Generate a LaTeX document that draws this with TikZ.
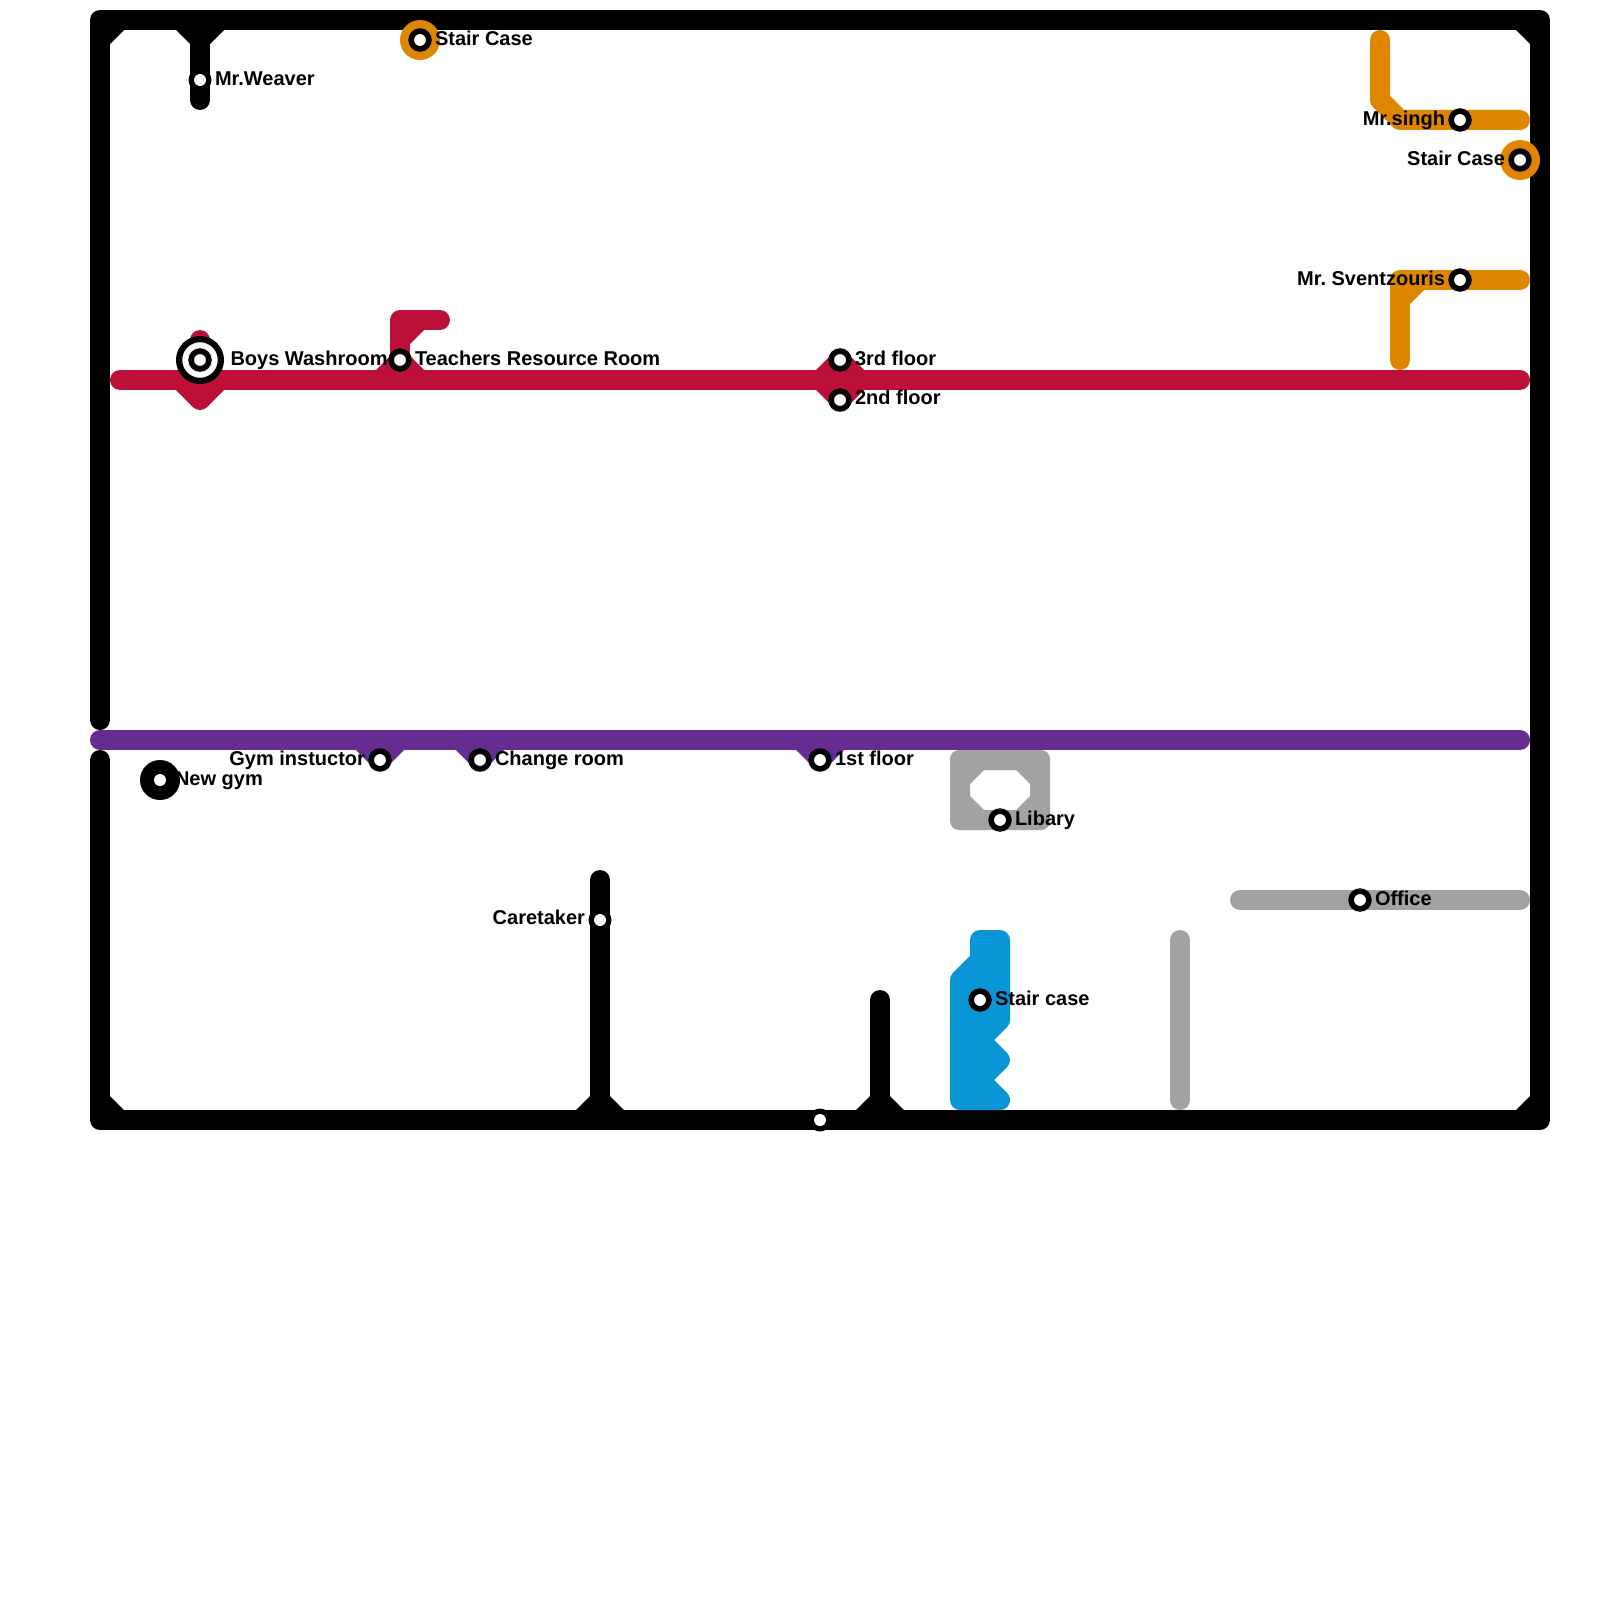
\documentclass[tikz,border=0pt]{standalone}
\usepackage{fontspec}
\setmainfont{Liberation Sans}
\frenchspacing
\definecolor{mred}{HTML}{BD1038}
\definecolor{morange}{HTML}{DF8600}
\definecolor{mpurple}{HTML}{662C90}
\definecolor{mblue}{HTML}{0896D7}
\definecolor{mgray}{HTML}{A2A2A2}
\tikzset{
  metro/.style={line width=20pt,line cap=round,line join=round},
  stn/.style={circle,fill=white,draw=black,line width=5.6pt,minimum size=17.8pt,inner sep=0pt,outer sep=0pt},
  stnplain/.style={circle,fill=white,minimum size=12pt,inner sep=0pt,outer sep=0pt},
  lbl/.style={font=\fontsize{20}{24}\selectfont\bfseries,inner sep=0pt,outer sep=0pt,text=black},
  lblr/.style={lbl,anchor=base west},
  lbll/.style={lbl,anchor=base east},
}
\begin{document}
\begin{tikzpicture}[x=1pt,y=-1pt]
\useasboundingbox (0,0) rectangle (1600,1600);
% station positions
\coordinate (mrweaver) at (200,80);
\coordinate (stairA) at (420,40);
\coordinate (boys) at (200,360);
\coordinate (teachers) at (400,360);
\coordinate (third) at (840,360);
\coordinate (second) at (840,400);
\coordinate (singh) at (1460,120);
\coordinate (stairB) at (1520,160);
\coordinate (svent) at (1460,280);
\coordinate (gym) at (380,760);
\coordinate (change) at (480,760);
\coordinate (first) at (820,760);
\coordinate (newgym) at (160,780);
\coordinate (libary) at (1000,820);
\coordinate (office) at (1360,900);
\coordinate (caretaker) at (600,920);
\coordinate (stairC) at (980,1000);
\coordinate (bottomstn) at (820,1120);
% black lines
\draw[metro,black] (100,720)--(100,20)--(1540,20)--(1540,1120)--(100,1120)--(100,760);
\draw[metro,black] (200,20)--(mrweaver)--(200,100);
\draw[metro,black] (600,880)--(caretaker)--(600,1120);
\draw[metro,black] (880,1000)--(880,1120);
\fill[black] (110,30)--(124,30)--(110,44)--cycle;
\fill[black] (1530,30)--(1516,30)--(1530,44)--cycle;
\fill[black] (110,1110)--(124,1110)--(110,1096)--cycle;
\fill[black] (1530,1110)--(1516,1110)--(1530,1096)--cycle;
\fill[black] (176,30)--(190,44)--(210,44)--(224,30)--cycle;
\fill[black] (576,1110)--(590,1096)--(610,1096)--(624,1110)--cycle;
\fill[black] (856,1110)--(870,1096)--(890,1096)--(904,1110)--cycle;
% gray
\fill[mgray,rounded corners=9pt,even odd rule] (950,750)--(1050,750)--(1050,830)--(950,830)--cycle
  [sharp corners] (984,770)--(1016,770)--(1030,784)--(1030,796)--(1016,810)--(984,810)--(970,796)--(970,784)--cycle;
\draw[metro,mgray] (1240,900)--(office)--(1520,900);
\draw[metro,mgray] (1180,940)--(1180,1100);
% blue
\filldraw[metro,mblue] (1000,940)--(1000,1020)--(980,1040)--(1000,1060)--(980,1080)--(1000,1100)--(960,1100)--(960,980)--(980,960)--(980,940)--cycle;
% orange
\draw[metro,morange] (1380,40)--(1380,100)--(1400,120)--(singh)--(1520,120);
\draw[metro,morange] (1400,360)--(1400,280)--(svent)--(1520,280);
\fill[morange] (1410,290)--(1424,290)--(1410,304)--cycle;
% red
\draw[metro,mred] (120,380)--(1520,380);
\draw[metro,mred] (boys)--(200,340);
\draw[metro,mred] (boys)--(200,400);
\fill[mred] (176,390)--(224,390)--(207.07,407.07)--(192.93,407.07)--cycle;
\draw[metro,mred] (400,380)--(teachers)--(400,320)--(440,320);
\fill[mred] (410,330)--(424,330)--(410,344)--cycle;
\fill[mred] (376,370)--(390,356)--(410,356)--(424,370)--cycle;
\draw[metro,mred] (third)--(second);
\fill[mred] (816,370)--(830,356)--(850,356)--(864,370)--cycle;
\fill[mred] (816,390)--(830,404)--(850,404)--(864,390)--cycle;
% purple
\draw[metro,mpurple] (100,740)--(1520,740);
\draw[metro,mpurple] (380,740)--(gym);
\draw[metro,mpurple] (480,740)--(change);
\draw[metro,mpurple] (820,740)--(first);
\fill[mpurple] (356,750)--(370,764)--(390,764)--(404,750)--cycle;
\fill[mpurple] (456,750)--(470,764)--(490,764)--(504,750)--cycle;
\fill[mpurple] (796,750)--(810,764)--(830,764)--(844,750)--cycle;
% stations
\node[circle,fill=black,minimum size=23pt,inner sep=0pt] (n-mrweaver-r) at (mrweaver) {};
\node[stnplain] (n-mrweaver) at (mrweaver) {};
\node[circle,fill=morange,minimum size=40pt,inner sep=0pt] (n-stairA-o) at (stairA) {};
\node[stn] (n-stairA) at (stairA) {};
\node[circle,fill=white,draw=black,line width=6.2pt,minimum size=41.8pt,inner sep=0pt] (n-boys-o) at (boys) {};
\node[stn] (n-boys) at (boys) {};
\node[stn] (n-teachers) at (teachers) {};
\node[stn] (n-third) at (third) {};
\node[stn] (n-second) at (second) {};
\node[stn] (n-singh) at (singh) {};
\node[circle,fill=morange,minimum size=40pt,inner sep=0pt] (n-stairB-o) at (stairB) {};
\node[stn] (n-stairB) at (stairB) {};
\node[stn] (n-svent) at (svent) {};
\node[stn] (n-gym) at (gym) {};
\node[stn] (n-change) at (change) {};
\node[stn] (n-first) at (first) {};
\node[circle,fill=black,minimum size=40pt,inner sep=0pt] (n-newgym-o) at (newgym) {};
\node[stnplain] (n-newgym) at (newgym) {};
\node[stn] (n-libary) at (libary) {};
\node[stn] (n-office) at (office) {};
\node[circle,fill=black,minimum size=23pt,inner sep=0pt] (n-caretaker-r) at (caretaker) {};
\node[stnplain] (n-caretaker) at (caretaker) {};
\node[stn] (n-stairC) at (stairC) {};
\node[circle,fill=black,minimum size=23pt,inner sep=0pt] (n-bottom-r) at (bottomstn) {};
\node[stnplain] (n-bottom) at (bottomstn) {};
% labels
\node[lblr] (t-mrweaver) at (215,86) {Mr.Weaver};
\node[lblr] (t-stairA) at (435,46) {Stair Case};
\node[lblr] (t-boys) at (230.5,365) {Boys Washroom};
\node[lblr] (t-teachers) at (415,365) {Teachers Resource Room};
\node[lblr] (t-third) at (855,365) {3rd floor};
\node[lblr] (t-second) at (855,404.5) {2nd floor};
\node[lbll] (t-singh) at (1445,125) {Mr.singh};
\node[lbll] (t-stairB) at (1505,165) {Stair Case};
\node[lbll] (t-svent) at (1445,285) {Mr. Sventzouris};
\node[lbll] (t-gym) at (365,765) {Gym instuctor};
\node[lblr] (t-change) at (495,765) {Change room};
\node[lblr] (t-first) at (835,765) {1st floor};
\node[lblr] (t-newgym) at (175,785) {New gym};
\node[lblr] (t-libary) at (1015,825) {Libary};
\node[lblr] (t-office) at (1375,905) {Office};
\node[lbll] (t-caretaker) at (585,924.5) {Caretaker};
\node[lblr] (t-stairC) at (995,1005) {Stair case};
\end{tikzpicture}
\end{document}
